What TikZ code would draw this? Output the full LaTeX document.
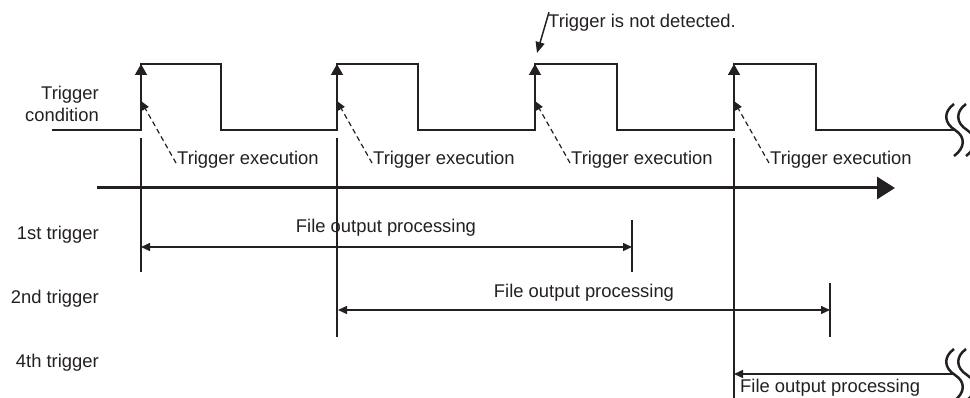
\documentclass[tikz,border=0pt]{standalone}
\usepackage{fontspec}
\setmainfont{Liberation Sans}
\usetikzlibrary{arrows.meta}
\definecolor{ink}{rgb}{0.14,0.12,0.13}
\begin{document}
\begin{tikzpicture}[x=1pt,y=-1pt,
  lbl/.style={font=\fontsize{18.4}{22}\selectfont, inner sep=0pt, text=ink},
  sig/.style={line width=1.5pt, draw=ink},
  thin/.style={line width=1.5pt, draw=ink},
  edgearrow/.style={line width=1.5pt, draw=ink, -{Triangle[length=11pt,width=12pt]}},
  dasharrow/.style={line width=1.2pt, draw=ink, dash pattern=on 5pt off 3.5pt, -{Triangle[length=9pt,width=7.5pt]}},
  solidarrow/.style={line width=1.5pt, draw=ink, -{Triangle[length=11pt,width=9pt]}},
  procarrow/.style={line width=1.5pt, draw=ink, {Triangle[length=9pt,width=8pt]}-{Triangle[length=9pt,width=8pt]}},
  procleft/.style={line width=1.5pt, draw=ink, {Triangle[length=9pt,width=8pt]}-},
  axisarrow/.style={line width=3pt, draw=ink, -{Triangle[length=18pt,width=22pt]}},
  squig/.style={line width=2.5pt, draw=ink}
]
\useasboundingbox (0,0) rectangle (970,398);
\clip (0,0) rectangle (970,398);

% waveform
\draw[sig] (52,130) -- (141,130) -- (141,64) -- (221,64) -- (221,130)
  -- (337,130) -- (337,64) -- (418,64) -- (418,130)
  -- (535,130) -- (535,64) -- (617,64) -- (617,130)
  -- (734,130) -- (734,64) -- (816,64) -- (816,130) -- (955,130);

% rising edge coordinates
\foreach \r [count=\i] in {141,337,535,734} {
  \coordinate (lo\i) at (\r,130);
  \coordinate (hi\i) at (\r,64);
  \coordinate (d\i) at (\r,101);
  \draw[edgearrow] (lo\i) -- (hi\i);
  \node[lbl, anchor=west] (te\i) at (\r+36,160) {Trigger execution};
  \draw[dasharrow] ([xshift=-1pt,yshift=-3pt]te\i.west) -- (d\i);
}

% squiggles
\foreach \dx in {0,12} {
  \draw[squig] (954+\dx,104) .. controls (943+\dx,112) and (944+\dx,123) .. (955+\dx,130)
    .. controls (966+\dx,137) and (965+\dx,148) .. (954+\dx,156);
  \draw[squig] (954+\dx,349) .. controls (943+\dx,357) and (944+\dx,368) .. (955+\dx,375)
    .. controls (966+\dx,382) and (965+\dx,393) .. (954+\dx,401);
}

% labels left
\node[lbl, anchor=east, align=right] (tc) at (99,104) {Trigger\\condition};
\node[lbl, anchor=east] (t1) at (99,235) {1st trigger};
\node[lbl, anchor=east] (t2) at (99,299) {2nd trigger};
\node[lbl, anchor=east] (t4) at (99,363) {4th trigger};

% not detected
\node[lbl, anchor=west] (nd) at (548,23) {Trigger is not detected.};
\coordinate (ndtip) at (537,53);
\draw[solidarrow] ([xshift=1pt,yshift=2pt]nd.north west) -- (ndtip);

% time axis
\coordinate (ax0) at (97,188);
\coordinate (ax1) at (895,188);
\draw[axisarrow] (ax0) -- (ax1);

% vertical marker lines
\coordinate (v1a) at (141,138); \coordinate (v1b) at (141,272);
\coordinate (v2a) at (337,138); \coordinate (v2b) at (337,337);
\coordinate (v4a) at (734,138); \coordinate (v4b) at (734,400);
\coordinate (e1a) at (632,220); \coordinate (e1b) at (632,272);
\coordinate (e2a) at (830,283); \coordinate (e2b) at (830,337);
\draw[thin] (v1a) -- (v1b);
\draw[thin] (v2a) -- (v2b);
\draw[thin] (v4a) -- (v4b);
\draw[thin] (e1a) -- (e1b);
\draw[thin] (e2a) -- (e2b);

% processing arrows
\coordinate (p1a) at (141,247); \coordinate (p1b) at (632,247);
\coordinate (p2a) at (338,310); \coordinate (p2b) at (830,310);
\coordinate (p4a) at (734,374); \coordinate (p4b) at (955,374);
\draw[procarrow] (p1a) -- (p1b);
\draw[procarrow] (p2a) -- (p2b);
\draw[procleft] (p4a) -- (p4b);

\node[lbl] (fo1) at (386,228) {File output processing};
\node[lbl] (fo2) at (584,293) {File output processing};
\node[lbl, anchor=west] (fo4) at (740,388) {File output processing};
\end{tikzpicture}
\end{document}
